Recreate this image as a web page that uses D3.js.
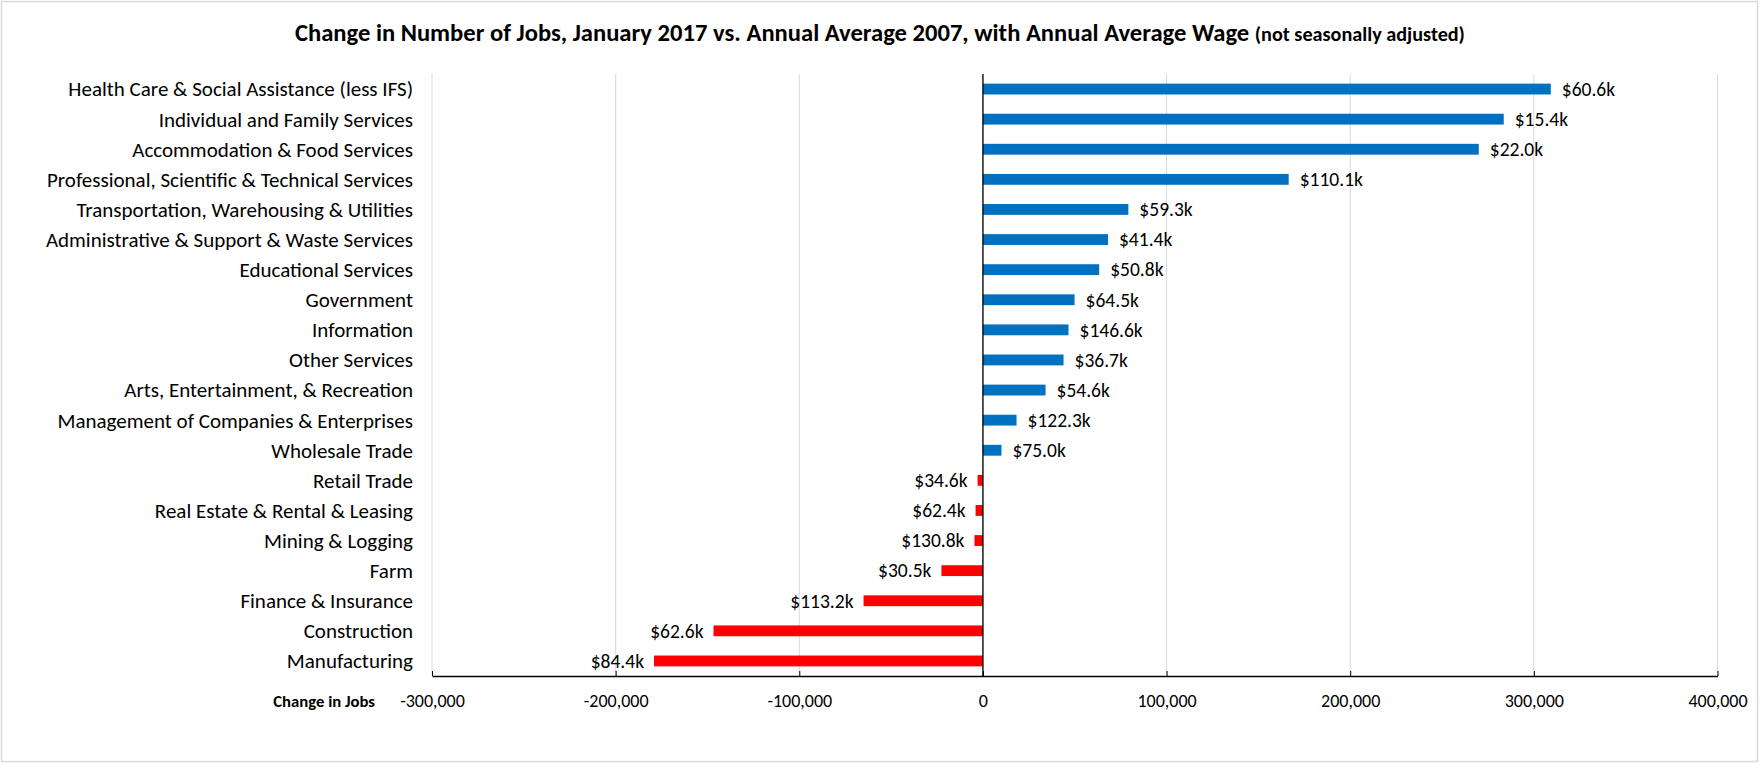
<!DOCTYPE html>
<html>
<head>
<meta charset="utf-8">
<script src="https://cdn.jsdelivr.net/npm/d3@7"></script>
<style>
  body { margin: 0; background: #fff; }
  svg text { font-family: Carlito, Lato, "Open Sans", sans-serif; fill: #000; }
</style>
</head>
<body>
<div id="chart"></div>
<script>
// categories, top to bottom
var categories = [
  "Health Care & Social Assistance (less IFS)",
  "Individual and Family Services",
  "Accommodation & Food Services",
  "Professional, Scientific & Technical Services",
  "Transportation, Warehousing & Utilities",
  "Administrative & Support & Waste Services",
  "Educational Services",
  "Government",
  "Information",
  "Other Services",
  "Arts, Entertainment, & Recreation",
  "Management of Companies & Enterprises",
  "Wholesale Trade",
  "Retail Trade",
  "Real Estate & Rental & Leasing",
  "Mining & Logging",
  "Farm",
  "Finance & Insurance",
  "Construction",
  "Manufacturing"
];

// change in jobs, Jan 2017 vs 2007 average
var jobChange = [
  309200, 283600, 270000, 166500, 79200, 68100, 63300, 49900, 46600, 43900,
  34100, 18300, 10100, -2900, -4000, -4600, -22600, -65000, -146700, -179100
];

// annual average wage, thousands of dollars
var avgWage = [
  60.6, 15.4, 22.0, 110.1, 59.3, 41.4, 50.8, 64.5, 146.6, 36.7,
  54.6, 122.3, 75.0, 34.6, 62.4, 130.8, 30.5, 113.2, 62.6, 84.4
];

var xTicks = [-300000, -200000, -100000, 0, 100000, 200000, 300000, 400000];

var width = 1762, height = 765;
var plotLeft = 432, plotRight = 1717.5, plotTop = 74, plotBottom = 676;

var loc = d3.formatLocale({decimal: ".", thousands: ",", grouping: [3], currency: ["$", ""], minus: "-"});
var fmtJobs = loc.format(",");

var rows = categories.map(function(c, i) {
  return {name: c, value: jobChange[i], wage: avgWage[i]};
});

var svg = d3.select("#chart").append("svg")
    .attr("width", width)
    .attr("height", height);

// outer chart border
svg.append("rect")
    .attr("x", 1.5).attr("y", 1.5)
    .attr("width", 1756).attr("height", 760)
    .attr("fill", "#fff")
    .attr("stroke", "#d9d9d9")
    .attr("stroke-width", 1.5);

var x = d3.scaleLinear()
    .domain([xTicks[0], xTicks[xTicks.length - 1]])
    .range([plotLeft, plotRight]);

var y = d3.scaleBand()
    .domain(categories)
    .range([plotTop, plotBottom])
    .paddingInner(0.64)
    .paddingOuter(0.32);

// title
var title = svg.append("text")
    .attr("x", 295)
    .attr("y", 41)
    .style("font-weight", "bold");
title.append("tspan")
    .style("font-size", "24.6px")
    .text("Change in Number of Jobs, January 2017 vs. Annual Average 2007, with Annual Average Wage ");
title.append("tspan")
    .style("font-size", "20.2px")
    .text("(not seasonally adjusted)");

// vertical gridlines
svg.append("g")
    .selectAll("line")
    .data(xTicks)
  .enter().append("line")
    .attr("x1", function(d) { return x(d); })
    .attr("x2", function(d) { return x(d); })
    .attr("y1", plotTop)
    .attr("y2", plotBottom)
    .attr("stroke", "#d9d9d9")
    .attr("stroke-width", 1);

// bars
svg.append("g")
    .selectAll("rect")
    .data(rows)
  .enter().append("rect")
    .attr("x", function(d) { return x(Math.min(0, d.value)); })
    .attr("y", function(d) { return y(d.name); })
    .attr("width", function(d) { return Math.abs(x(d.value) - x(0)); })
    .attr("height", y.bandwidth())
    .attr("fill", function(d) { return d.value >= 0 ? "#0070C0" : "#FF0000"; });

// wage labels at the bar ends
svg.append("g")
    .selectAll("text")
    .data(rows)
  .enter().append("text")
    .attr("x", function(d) { return d.value >= 0 ? x(d.value) + 11 : x(d.value) - 10; })
    .attr("y", function(d) { return y(d.name) + y.bandwidth() / 2; })
    .attr("dy", "0.35em")
    .attr("text-anchor", function(d) { return d.value >= 0 ? "start" : "end"; })
    .style("font-size", "19.5px")
    .text(function(d) { return "$" + d.wage.toFixed(1) + "k"; });

// category axis sits on zero
svg.append("line")
    .attr("x1", x(0)).attr("x2", x(0))
    .attr("y1", plotTop).attr("y2", plotBottom)
    .attr("stroke", "#000")
    .attr("stroke-width", 1.3);

// category labels
svg.append("g")
    .selectAll("text")
    .data(categories)
  .enter().append("text")
    .attr("x", 413)
    .attr("y", function(d) { return y(d) + y.bandwidth() / 2; })
    .attr("dy", "0.35em")
    .attr("text-anchor", "end")
    .style("font-size", "21px")
    .text(function(d) { return d; });

// value axis
var xAxis = d3.axisBottom(x)
    .tickValues(xTicks)
    .tickFormat(fmtJobs)
    .tickSizeInner(-5)
    .tickSizeOuter(0)
    .tickPadding(18);

var gx = svg.append("g")
    .attr("transform", "translate(0," + plotBottom + ")")
    .call(xAxis);
gx.select(".domain").attr("stroke", "#000").attr("stroke-width", 1.3);
gx.selectAll(".tick line").attr("stroke", "#000");
gx.selectAll(".tick text")
    .attr("fill", "#000")
    .style("font-size", "18px")
    .style("font-family", "Carlito, Lato, sans-serif");

svg.append("text")
    .attr("x", 375)
    .attr("y", 701)
    .attr("dy", "0.35em")
    .attr("text-anchor", "end")
    .style("font-size", "16.7px")
    .style("font-weight", "bold")
    .text("Change in Jobs");
</script>
</body>
</html>
